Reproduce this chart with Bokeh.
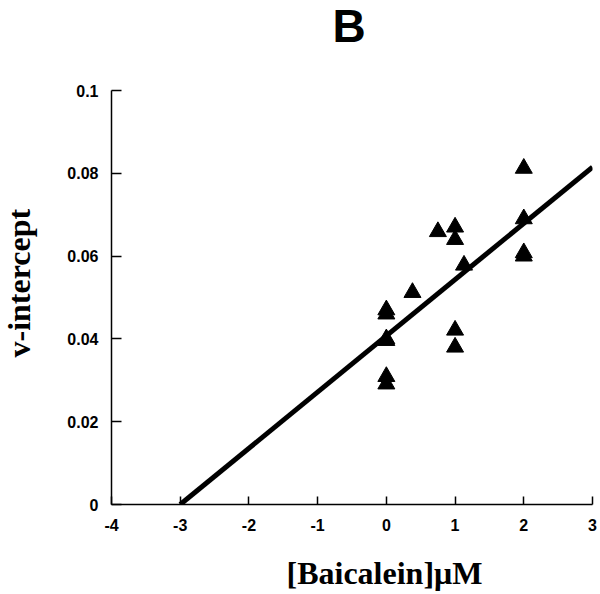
from bokeh.plotting import figure
from bokeh.embed import file_html
from bokeh.resources import INLINE
from bokeh.models import FixedTicker, Title

# Data
conc = [0, 0, 0, 0, 0, 0, 0.38, 0.75, 1, 1, 1, 1, 1.13, 2, 2, 2, 2]
v_intercept = [0.0470, 0.0460, 0.0400, 0.0396, 0.0309, 0.0291, 0.0512, 0.0659,
               0.0670, 0.0640, 0.0421, 0.0380, 0.0578, 0.0812, 0.0690, 0.0608, 0.0600]
fit_x = [-3, 3]
fit_y = [0.0, 0.0815]
x_ticks = [-4, -3, -2, -1, 0, 1, 2, 3]
x_tick_labels = ["-4", "-3", "-2", "-1", "0", "1", "2", "3"]
y_ticks = [0, 0.02, 0.04, 0.06, 0.08, 0.1]
y_tick_labels = ["0", "0.02", "0.04", "0.06", "0.08", "0.1"]

p = figure(width=600, height=594, x_range=(-4, 3), y_range=(0, 0.1),
           output_backend="svg", toolbar_location=None,
           min_border_left=111, min_border_right=8,
           min_border_top=90, min_border_bottom=90)
p.outline_line_color = None
p.xgrid.visible = False
p.ygrid.visible = False

for ax in (p.xaxis[0], p.yaxis[0]):
    ax.axis_line_color = "black"
    ax.axis_line_width = 1.5
    ax.major_tick_line_color = "black"
    ax.major_tick_line_width = 1.5
    ax.major_tick_out = 0
    ax.minor_tick_line_color = None
    ax.major_label_text_font = "Liberation Sans"
    ax.major_label_text_font_style = "bold"
    ax.major_label_text_font_size = "16px"
    ax.major_label_text_color = "black"

p.xaxis.ticker = FixedTicker(ticks=x_ticks)
p.xaxis.major_label_overrides = {t: l for t, l in zip(x_ticks, x_tick_labels)}
p.xaxis.major_tick_in = 8
p.xaxis.major_label_standoff = 14
p.yaxis.ticker = FixedTicker(ticks=y_ticks)
p.yaxis.major_label_overrides = {t: l for t, l in zip(y_ticks, y_tick_labels)}
p.yaxis.major_tick_in = 10
p.yaxis.major_label_standoff = 13

p.line(fit_x, fit_y, line_color="black", line_width=5)
p.scatter(conc, v_intercept, marker="triangle", size=17, color="black")

# top: spacer next to the frame, then the panel letter
p.add_layout(Title(text=" ", text_font_size="1px", standoff=42), "above")
p.add_layout(Title(text="B", align="left", offset=221, vertical_align="top",
                   text_font="Liberation Sans", text_font_style="bold",
                   text_font_size="46px", text_color="black", standoff=-16), "above")
# left: spacer next to the axis, then the axis title
p.add_layout(Title(text=" ", text_font_size="1px", standoff=28), "left")
p.add_layout(Title(text="v-intercept", align="left", offset=147,
                   text_font="Liberation Serif", text_font_style="bold",
                   text_font_size="32px", text_color="black", standoff=-6), "left")
# bottom: spacer below the axis, then the axis title
p.add_layout(Title(text=" ", text_font_size="1px", standoff=13), "below")
p.add_layout(Title(text="[Baicalein]μM", align="left", offset=175,
                   text_font="Liberation Serif", text_font_style="bold",
                   text_font_size="32px", text_color="black", standoff=7), "below")

open("out.html", "w").write(file_html(p, INLINE))
